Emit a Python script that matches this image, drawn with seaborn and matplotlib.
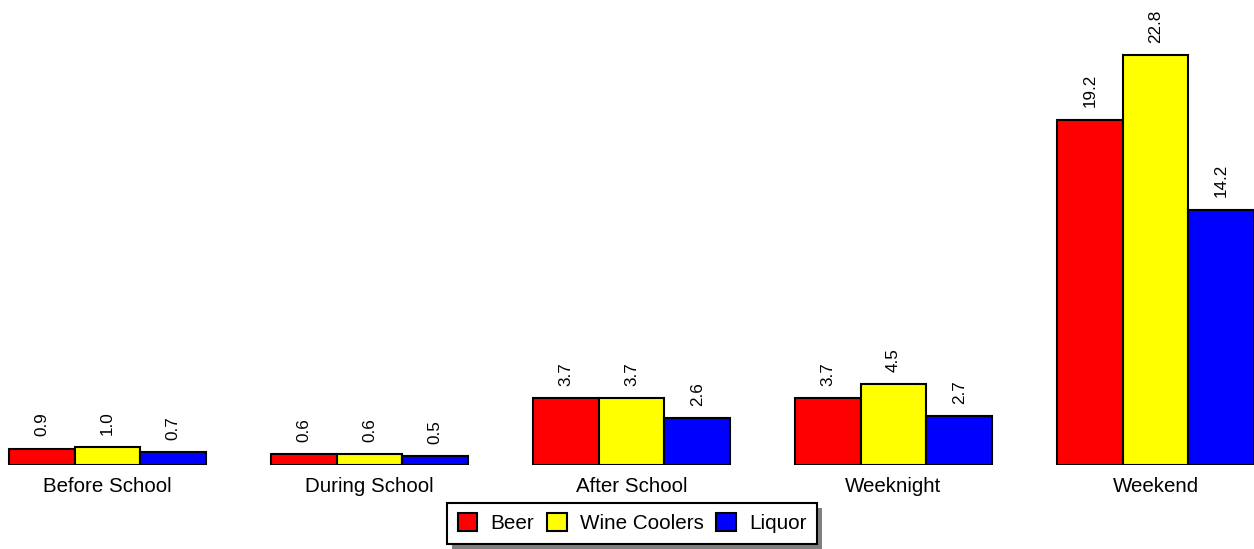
import matplotlib
matplotlib.use("Agg")
import matplotlib.pyplot as plt
import seaborn as sns
import pandas as pd
from matplotlib.patches import Rectangle

categories = ["Before School", "During School", "After School", "Weeknight", "Weekend"]
series = ["Beer", "Wine Coolers", "Liquor"]
beer = [0.9, 0.6, 3.7, 3.7, 19.2]
wine_coolers = [1.0, 0.6, 3.7, 4.5, 22.8]
liquor = [0.7, 0.5, 2.6, 2.7, 14.2]
colors = ["#ff0000", "#ffff00", "#0000ff"]

rows = []
for s, vals in zip(series, [beer, wine_coolers, liquor]):
    for c, v in zip(categories, vals):
        rows.append({"Category": c, "Drink": s, "Value": v})
df = pd.DataFrame(rows)

sns.set_style("white")
plt.rcParams["font.family"] = ["Liberation Sans", "DejaVu Sans"]
plt.rcParams["text.color"] = "black"
plt.rcParams["xtick.color"] = "black"
plt.rcParams["xtick.labelcolor"] = "black"

fig = plt.figure(figsize=(12.54, 5.49), dpi=100)
ax = fig.add_axes([0, (549 - 465) / 549, 1, 465 / 549])

sns.barplot(data=df, x="Category", y="Value", hue="Drink", order=categories,
            hue_order=series, palette=colors, width=0.752, gap=0,
            edgecolor="black", linewidth=1.5, saturation=1, ax=ax, legend=False)

for cont in ax.containers:
    ax.bar_label(cont, fmt="%.1f", rotation=90, padding=9, fontsize=12.3, color="black")

ax.set_xlim(-0.41, 4.376)
ax.set_ylim(0, 465 / 17.98)
ax.set_xlabel("")
ax.set_ylabel("")
ax.set_yticks([])
ax.tick_params(axis="x", length=0, labelsize=14.8, pad=9, labelcolor="black")
for sp in ax.spines.values():
    sp.set_visible(False)
ax.patch.set_alpha(0)

handles = [Rectangle((0, 0), 1, 1, facecolor=c, edgecolor="black", linewidth=1.5) for c in colors]
leg = fig.legend(handles, series, loc="center", bbox_to_anchor=(0.504, 0.047),
                 ncol=3, fontsize=14.9, frameon=True, fancybox=False,
                 handlelength=0.96, handleheight=0.96, handletextpad=0.62,
                 columnspacing=0.62, borderpad=0.5, edgecolor="black", framealpha=1)
leg.get_frame().set_linewidth(1.5)
for t in leg.get_texts():
    t.set_color("black")

fig.canvas.draw()
bb = leg.get_window_extent()
shadow = Rectangle((bb.x0 + 5, bb.y0 - 5), bb.width, bb.height, transform=None,
                   facecolor="#808080", edgecolor="none", zorder=4)
fig.patches.append(shadow)
leg.set_zorder(5)

fig.savefig("out.png", dpi=100)
